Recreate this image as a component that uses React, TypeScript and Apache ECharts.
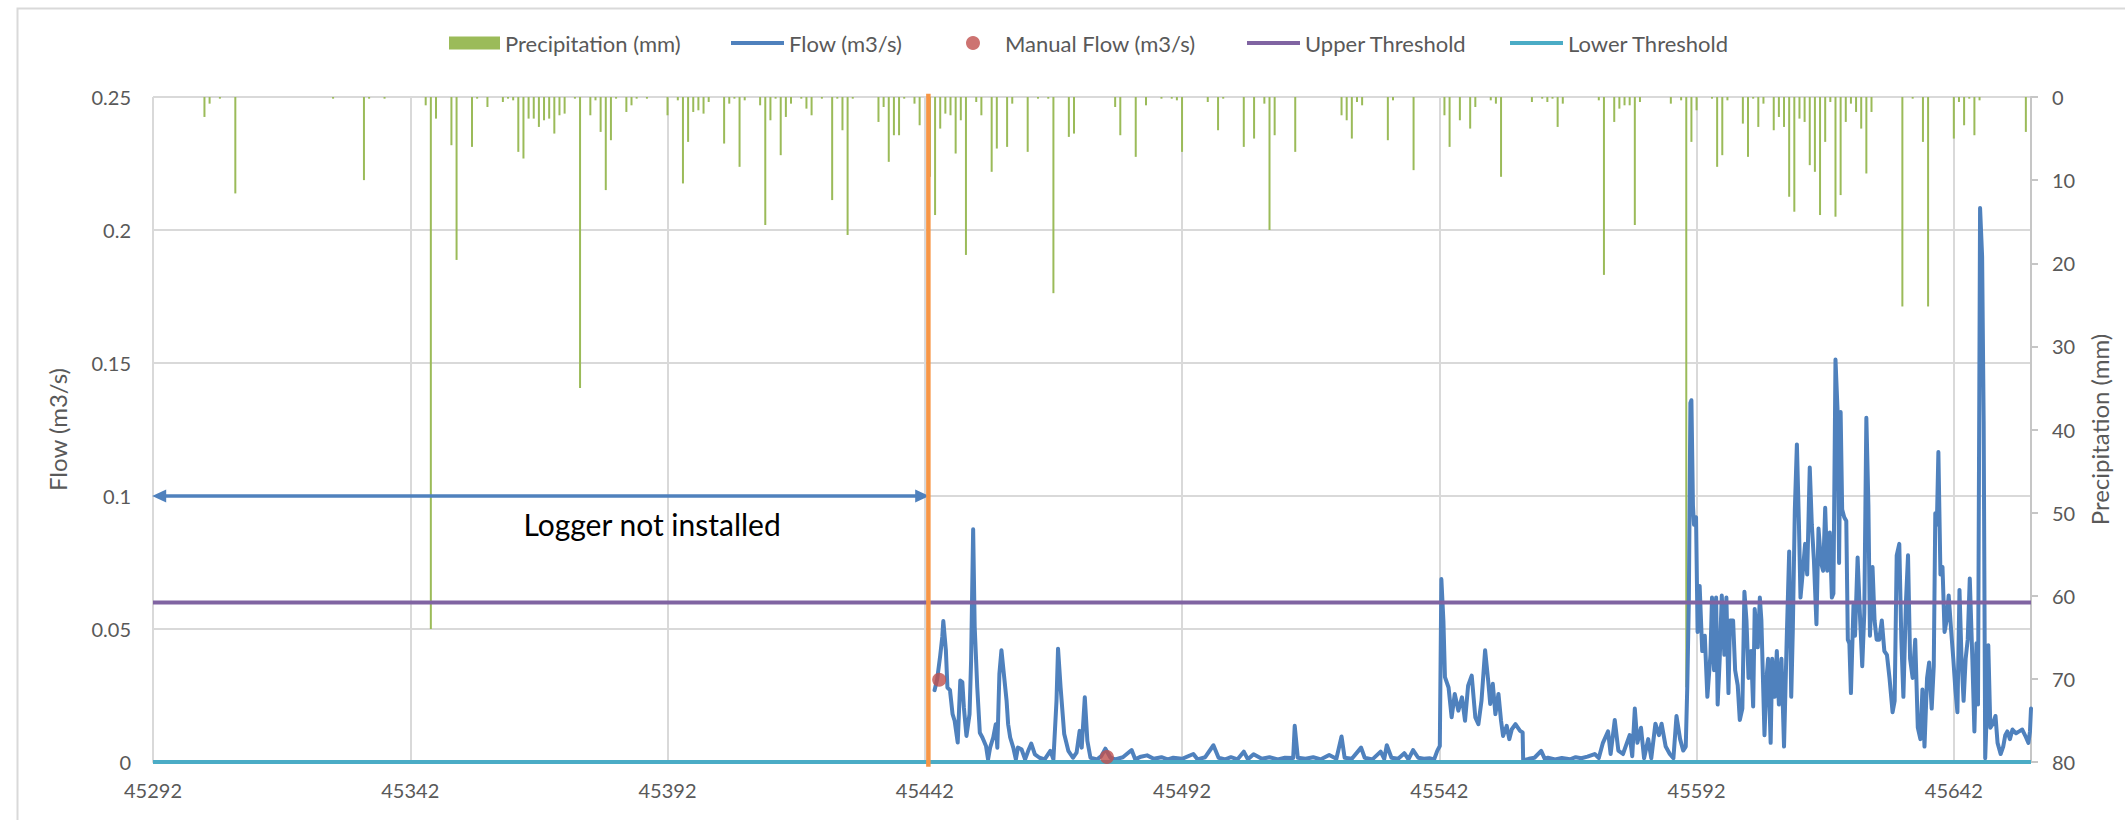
import React, { useEffect, useRef } from "react";
import * as echarts from "echarts";

// ---------- data ----------
// x values are day offsets from the first serial date shown on the axis
const START_DAY = 45292;
const X_MAX = 365;
const X_INTERVAL = 50;

// daily precipitation (mm)
const precipDay = [
  10, 11, 13, 16, 35, 41, 42, 45, 53, 54, 55, 58, 59, 62, 63, 65, 68, 69, 70, 71, 72, 73, 74, 75, 76, 77, 78, 79, 80, 82,
  83, 85, 86, 87, 88, 89, 90, 92, 93, 94, 96, 100, 102, 103, 104, 105, 106, 107, 108, 111, 112, 113, 114, 115, 118, 119, 120, 121,
  122, 123, 124, 126, 127, 128, 130, 132, 133, 134, 135, 136, 141, 142, 143, 144, 145, 146, 148, 149, 151, 152, 153, 154, 155, 156,
  157, 158, 160, 161, 163, 164, 166, 167, 170, 172, 174, 175, 178, 179, 187, 188, 191, 193, 196, 198, 199, 200, 205, 207, 208, 212,
  214, 216, 217, 218, 222, 231, 232, 233, 234, 235, 240, 241,
  245, 251, 252, 254, 256, 257, 260, 261, 262, 268, 270, 271, 272, 273, 274, 281, 282, 284, 285, 286, 287, 288, 289, 295, 297, 298,
  299, 300, 303, 304, 305, 306, 309, 310, 311, 312, 313, 315, 316, 317, 318, 319, 320, 321, 322, 323, 324, 325, 326, 327, 328, 329,
  330, 331, 332, 333, 334, 340, 342, 344, 345, 350, 351, 352, 353, 354, 355, 364,
];
const precipMm = [
  2.4, 0.8, 0.2, 11.6, 0.2, 10.0, 0.2, 0.2, 1.0, 64, 2.6, 5.8, 19.6, 6.0, 0.2, 1.2, 0.6, 0.2, 0.4, 6.6, 7.4, 2.6, 2.6, 3.6, 2.8, 2.6, 4.4, 2.2, 2.0, 0.2,
  35, 2.2, 0.4, 4.2, 11.2, 5.2, 0.2, 1.8, 1.0, 0.2, 0.2, 2.2, 0.4, 10.4, 5.4, 1.8, 1.6, 2.0, 0.6, 5.6, 0.8, 0.2, 8.4, 0.4, 1.0, 15.4, 2.8, 0.2,
  7.0, 2.4, 0.8, 0.2, 1.4, 2.2, 0.2, 12.4, 0.2, 4.0, 16.6, 0.2, 3.0, 1.2, 7.8, 4.6, 4.6, 0.2, 0.8, 3.4, 9.6, 14.2, 3.8, 2.0, 2.2, 6.8,
  2.8, 19.0, 0.6, 2.2, 9.0, 6.2, 6.0, 0.8, 6.6, 0.2, 0.2, 23.6, 4.8, 4.4, 1.2, 4.6, 7.2, 1.0, 0.2, 0.2, 0.4, 6.6, 0.6, 4.0, 0.2, 6.0,
  5.0, 0.8, 16.0, 4.6, 6.6, 2.2, 2.8, 5.0, 0.6, 1.0, 5.2, 0.4,
  8.8, 2.2, 6.0, 2.8, 3.8, 1.2, 0.4, 0.8, 9.6, 0.6, 0.2, 0.6, 0.2, 3.6, 0.8, 0.4, 21.4, 3.0, 1.4, 1.0, 1.0, 15.4, 0.6, 0.8, 0.4, 71,
  5.4, 1.6, 0.2, 8.4, 7.0, 0.4, 3.2, 7.2, 0.2, 3.6, 0.8, 4.0, 2.4, 3.6, 12.0, 13.8, 2.6, 3.0, 8.2, 9.0, 14.2, 5.4, 0.6, 14.4, 11.8, 3.0,
  0.8, 1.8, 3.8, 9.2, 1.8, 25.2, 0.2, 5.4, 25.2, 5.0, 0.6, 3.4, 0.2, 4.6, 0.4, 4.2,
];

// logged flow (m3/s): [day offset, flow]
const flowReadings: [number, number][] = [
  [151.9, 0.027], [152.4, 0.031], [153.0, 0.04], [153.4, 0.047], [153.6, 0.053], [154.1, 0.042], [154.4, 0.028], [154.9, 0.027],
  [155.4, 0.018], [155.8, 0.0155], [156.4, 0.0073], [156.9, 0.0306], [157.3, 0.03], [157.6, 0.0205], [158.1, 0.0098], [158.7, 0.018],
  [159.0, 0.038], [159.4, 0.0875], [159.7, 0.0508], [160.2, 0.028], [160.7, 0.011], [161.2, 0.0092], [161.9, 0.006], [162.3, 0.001],
  [162.7, 0.0054], [163.3, 0.0092], [163.8, 0.0142], [164.1, 0.0054], [164.5, 0.0331], [164.9, 0.042], [165.3, 0.0344], [165.9, 0.023],
  [166.2, 0.0142], [166.6, 0.0092], [167.2, 0.0054], [167.7, 0.001], [168.1, 0.0054], [168.8, 0.0048], [169.5, 0.001], [170.1, 0.0042],
  [170.7, 0.0069], [171.4, 0.0029], [172.3, 0.0016], [173.3, 0.001], [174.4, 0.0042], [175.0, 0.001], [175.6, 0.023], [175.9, 0.0426],
  [176.4, 0.028], [177.1, 0.0105], [177.9, 0.0042], [178.8, 0.0016], [179.5, 0.0035], [180.1, 0.0117], [180.5, 0.0054], [181.1, 0.0243],
  [181.6, 0.0079], [182.2, 0.0016], [183.5, 0.001], [184.3, 0.0022], [185.1, 0.005], [186.1, 0.0016], [187.0, 0.001], [188.5, 0.0018],
  [190.2, 0.0045], [190.9, 0.001], [192.0, 0.002], [193.2, 0.0025], [194.5, 0.0012], [196.0, 0.0018], [197.2, 0.001], [198.3, 0.0016],
  [200.0, 0.0012], [202.2, 0.003], [203.0, 0.001], [204.5, 0.0018], [206.1, 0.0063], [207.1, 0.0016], [208.4, 0.001], [209.5, 0.0018],
  [210.8, 0.001], [212.0, 0.0039], [212.8, 0.001], [213.9, 0.0029], [215.5, 0.0012], [217.0, 0.0018], [218.6, 0.001], [220.0, 0.0016],
  [221.6, 0.0015], [221.9, 0.0136], [222.5, 0.0016], [224.0, 0.0012], [225.5, 0.0018], [227.0, 0.001], [228.6, 0.0026], [230.0, 0.0012],
  [231.0, 0.0096], [231.6, 0.0016], [233.0, 0.0012], [234.8, 0.0054], [235.5, 0.0016], [237.0, 0.001], [238.6, 0.0039], [239.3, 0.0012],
  [239.8, 0.0063], [240.7, 0.0016], [242.0, 0.0012], [243.2, 0.0033], [244.0, 0.001], [244.9, 0.0045], [245.9, 0.0016], [247.0, 0.0012],
  [248.1, 0.0014], [249.0, 0.001], [249.6, 0.0042], [250.1, 0.006], [250.4, 0.0688], [250.8, 0.053], [251.1, 0.0319], [251.8, 0.028],
  [252.4, 0.0168], [253.0, 0.0256], [253.7, 0.0193], [254.4, 0.0243], [255.0, 0.0155], [255.6, 0.0287], [256.3, 0.0325], [257.0, 0.0168],
  [257.6, 0.0142], [258.2, 0.023], [258.9, 0.042], [259.5, 0.0306], [259.9, 0.0218], [260.4, 0.0294], [260.9, 0.018], [261.5, 0.0256],
  [262.0, 0.0155], [262.4, 0.0098], [263.1, 0.0136], [263.6, 0.0086], [264.1, 0.0123], [264.8, 0.0142], [265.7, 0.0117], [266.2, 0.0111],
  [266.3, 0.0006], [267.4, 0.0012], [268.5, 0.0016], [269.8, 0.0042], [270.5, 0.0012], [271.1, 0.0016], [272.5, 0.001], [273.8, 0.0015],
  [275.4, 0.001], [276.5, 0.0018], [277.6, 0.0014], [278.8, 0.002], [280.2, 0.003], [281.0, 0.0015], [281.8, 0.0072], [282.8, 0.0115],
  [283.3, 0.003], [284.1, 0.0158], [284.8, 0.0043], [285.7, 0.003], [287.0, 0.0101], [287.5, 0.0022], [288.0, 0.0201], [288.5, 0.0072],
  [289.2, 0.0129], [289.8, 0.0014], [290.6, 0.0086], [291.2, 0.0014], [292.0, 0.0144], [292.7, 0.0101], [293.2, 0.0144], [294.0, 0.0058],
  [294.8, 0.003], [295.5, 0.0014], [296.1, 0.0173], [296.8, 0.0086], [297.4, 0.0043], [297.9, 0.0058], [298.2, 0.0288], [298.5, 0.0604],
  [298.8, 0.135], [299.0, 0.136], [299.3, 0.0964], [299.5, 0.0892], [299.9, 0.092], [300.2, 0.0489], [300.6, 0.0662], [301.1, 0.0417],
  [301.6, 0.0475], [302.1, 0.0245], [302.7, 0.0403], [303.0, 0.0618], [303.4, 0.0345], [303.8, 0.0618], [304.1, 0.0216], [304.5, 0.0388],
  [304.9, 0.0626], [305.4, 0.0403], [305.8, 0.0618], [306.2, 0.0259], [306.5, 0.0532], [307.1, 0.0532], [307.5, 0.0345], [308.0, 0.0288],
  [308.4, 0.0158], [308.9, 0.0201], [309.3, 0.064], [309.7, 0.0532], [310.1, 0.0316], [310.6, 0.0417], [311.0, 0.0209], [311.3, 0.0575],
  [311.9, 0.0431], [312.3, 0.0618], [312.6, 0.0532], [313.2, 0.0101], [313.6, 0.0316], [313.9, 0.0388], [314.4, 0.0072], [314.7, 0.0388],
  [315.2, 0.0245], [315.6, 0.0417], [316.0, 0.0216], [316.5, 0.0388], [317.0, 0.0058], [317.5, 0.0446], [318.0, 0.0791], [318.4, 0.0245],
  [318.7, 0.0489], [319.1, 0.0949], [319.5, 0.1194], [319.9, 0.0892], [320.2, 0.0618], [320.6, 0.0705], [321.1, 0.082], [321.5, 0.0705],
  [322.0, 0.1107], [322.4, 0.0892], [322.8, 0.0762], [323.3, 0.0518], [323.7, 0.0878], [324.2, 0.0748], [324.6, 0.0719], [325.0, 0.0956],
  [325.4, 0.0719], [325.9, 0.0863], [326.3, 0.0618], [326.6, 0.0633], [327.0, 0.1513], [327.4, 0.1323], [327.7, 0.0748], [328.0, 0.1316],
  [328.3, 0.0949], [328.7, 0.092], [329.1, 0.0906], [329.4, 0.046], [329.7, 0.0446], [330.0, 0.0259], [330.5, 0.059], [330.8, 0.0475],
  [331.3, 0.0769], [331.8, 0.0532], [332.2, 0.036], [332.6, 0.0561], [333.0, 0.1294], [333.4, 0.0964], [333.7, 0.0475], [334.2, 0.0733],
  [334.6, 0.0532], [335.0, 0.046], [335.5, 0.046], [336.0, 0.0532], [336.5, 0.0417], [337.0, 0.0403], [337.5, 0.0316], [338.1, 0.0187],
  [338.5, 0.023], [338.9, 0.0777], [339.4, 0.082], [339.8, 0.046], [340.2, 0.0245], [340.7, 0.0604], [341.1, 0.0777], [341.5, 0.0388],
  [342.0, 0.0316], [342.5, 0.046], [343.0, 0.0129], [343.5, 0.0086], [343.9, 0.0273], [344.3, 0.0058], [344.8, 0.0316], [345.2, 0.0374],
  [345.7, 0.0201], [346.1, 0.036], [346.4, 0.0935], [346.7, 0.0892], [347.0, 0.1165], [347.4, 0.0705], [347.8, 0.0733], [348.2, 0.0489],
  [348.6, 0.0532], [349.0, 0.0626], [349.5, 0.0489], [349.9, 0.0388], [350.3, 0.0273], [350.7, 0.0187], [351.1, 0.0647], [351.5, 0.0388],
  [351.9, 0.023], [352.3, 0.0388], [352.7, 0.046], [353.1, 0.069], [353.6, 0.0388], [354.0, 0.0115], [354.4, 0.0446], [354.7, 0.0216],
  [355.1, 0.2083], [355.5, 0.19], [355.8, 0.128], [356.1, 0.0014], [356.3, 0.0129], [356.7, 0.0439], [357.1, 0.0129], [357.6, 0.0144],
  [358.1, 0.0173], [358.5, 0.0072], [359.1, 0.003], [359.6, 0.0058], [360.0, 0.0101], [360.4, 0.0115], [360.9, 0.0086], [361.4, 0.0122],
  [362.1, 0.0108], [362.7, 0.0115], [363.3, 0.0122], [364.0, 0.0094], [364.5, 0.0072], [364.8, 0.0115], [365.0, 0.0201],
];

// manual flow gaugings
const manualDay = [152.8, 185.4];
const manualFlow = [0.0309, 0.0019];

const UPPER_THRESHOLD = 0.06;
const LOWER_THRESHOLD = 0;
const LOGGER_INSTALLED_DAY = 150.7;
const ANNOTATION_FLOW = 0.1;

// ---------- style ----------
const FONT = "Lato, 'Open Sans', sans-serif";
const TXT = "#595959";
const GRID = "#d9d9d9";

export default function App() {
  const ref = useRef<HTMLDivElement>(null);

  useEffect(() => {
    if (!ref.current) return;
    const chart = echarts.init(ref.current, undefined, { renderer: "svg" });

    const legendBase = {
      top: 27,
      textStyle: { color: TXT, fontSize: 22, fontFamily: FONT },
      selectedMode: false as const,
    };

    const option: any = {
      animation: false,
      backgroundColor: "#ffffff",
      textStyle: { fontFamily: FONT },
      graphic: [
        {
          type: "rect",
          left: 15,
          top: 6,
          silent: true,
          z: -10,
          shape: { width: 2300, height: 900 },
          style: { fill: "none", stroke: "#d9d9d9", lineWidth: 2 },
        },
      ],
      grid: { left: 153, right: 94, top: 97, bottom: 58 },
      legend: [
        { ...legendBase, left: 444, itemWidth: 51, itemHeight: 13, data: [{ name: "Precipitation (mm)", icon: "rect" }] },
        { ...legendBase, left: 726, itemWidth: 53, itemHeight: 4, data: [{ name: "Flow (m3/s)", icon: "rect" }] },
        { ...legendBase, left: 961, itemWidth: 54, itemHeight: 14, data: [{ name: "Manual Flow (m3/s)", icon: "circle" }] },
        { ...legendBase, left: 1242, itemWidth: 53, itemHeight: 4, data: [{ name: "Upper Threshold", icon: "rect" }] },
        { ...legendBase, left: 1505, itemWidth: 53, itemHeight: 4, data: [{ name: "Lower Threshold", icon: "rect" }] },
      ],
      xAxis: {
        type: "value",
        min: 0,
        max: X_MAX,
        interval: X_INTERVAL,
        axisLine: { show: true, lineStyle: { color: GRID, width: 2 } },
        axisTick: { show: false },
        splitLine: { show: true, lineStyle: { color: GRID, width: 2 } },
        axisLabel: {
          color: TXT,
          fontSize: 20,
          fontFamily: FONT,
          margin: 18,
          showMaxLabel: false,
          formatter: (v: number) => String(v + START_DAY),
        },
      },
      yAxis: [
        {
          type: "value",
          min: 0,
          max: 0.25,
          interval: 0.05,
          name: "Flow (m3/s)",
          nameLocation: "middle",
          nameRotate: 90,
          nameGap: 84,
          nameTextStyle: { color: TXT, fontSize: 24, fontFamily: FONT },
          axisLine: { show: false },
          axisTick: { show: false },
          splitLine: { show: true, lineStyle: { color: GRID, width: 2 } },
          axisLabel: {
            color: TXT,
            fontSize: 20,
            fontFamily: FONT,
            margin: 22,
            formatter: (v: number) => String(Math.round(v * 100) / 100),
          },
        },
        {
          type: "value",
          min: 0,
          max: 80,
          interval: 10,
          inverse: true,
          position: "right",
          name: "Precipitation (mm)",
          nameLocation: "middle",
          nameRotate: 90,
          nameGap: 56,
          nameTextStyle: { color: TXT, fontSize: 24, fontFamily: FONT },
          axisLine: { show: true, lineStyle: { color: "#c6c6c6", width: 2 } },
          axisTick: { show: true, inside: false, length: 7, lineStyle: { color: "#c6c6c6", width: 2 } },
          splitLine: { show: false },
          axisLabel: { color: TXT, fontSize: 20, fontFamily: FONT, margin: 21 },
        },
      ],
      series: [
        {
          name: "Precipitation (mm)",
          type: "bar",
          xAxisIndex: 0,
          yAxisIndex: 1,
          barWidth: 2,
          itemStyle: { color: "#9bbb59" },
          z: 1,
          data: precipDay.map((d, i) => [d, precipMm[i]]),
        },
        {
          name: "Flow (m3/s)",
          type: "line",
          yAxisIndex: 0,
          symbol: "none",
          showSymbol: false,
          lineStyle: { color: "#4f81bd", width: 4, join: "round", cap: "round" },
          itemStyle: { color: "#4f81bd" },
          z: 3,
          data: flowReadings,
        },
        {
          name: "Upper Threshold",
          type: "line",
          yAxisIndex: 0,
          symbol: "none",
          lineStyle: { color: "#8064a2", width: 4 },
          itemStyle: { color: "#8064a2" },
          z: 4,
          data: [
            [0, UPPER_THRESHOLD],
            [X_MAX, UPPER_THRESHOLD],
          ],
        },
        {
          name: "Lower Threshold",
          type: "line",
          yAxisIndex: 0,
          symbol: "none",
          lineStyle: { color: "#4bacc6", width: 4 },
          itemStyle: { color: "#4bacc6" },
          z: 4,
          data: [
            [0, LOWER_THRESHOLD],
            [X_MAX, LOWER_THRESHOLD],
          ],
        },
        {
          name: "Manual Flow (m3/s)",
          type: "scatter",
          yAxisIndex: 0,
          symbol: "circle",
          symbolSize: 14,
          itemStyle: { color: "#c0504d" },
          z: 6,
          data: manualDay.map((d, i) => [d, manualFlow[i]]),
        },
        {
          name: "Logger installed",
          type: "line",
          yAxisIndex: 0,
          symbol: "none",
          clip: false,
          silent: true,
          lineStyle: { color: "#f79646", width: 4.5 },
          z: 5,
          data: [
            [LOGGER_INSTALLED_DAY, -0.0018],
            [LOGGER_INSTALLED_DAY, 0.2512],
          ],
        },
        {
          name: "annotation",
          type: "line",
          yAxisIndex: 0,
          symbol: "none",
          silent: true,
          lineStyle: { opacity: 0, width: 0 },
          z: 5,
          data: [
            [1.2, ANNOTATION_FLOW],
            [LOGGER_INSTALLED_DAY - 1.2, ANNOTATION_FLOW],
          ],
          markLine: {
            silent: true,
            symbol: ["triangle", "triangle"],
            symbolSize: [13, 14],
            label: { show: false },
            lineStyle: { color: "#4f81bd", width: 3.5, type: "solid" },
            data: [[{ coord: [1.2, ANNOTATION_FLOW] }, { coord: [LOGGER_INSTALLED_DAY - 1.2, ANNOTATION_FLOW] }]],
          },
          markPoint: {
            silent: true,
            symbol: "rect",
            symbolSize: 1,
            itemStyle: { color: "rgba(0,0,0,0)" },
            label: {
              show: true,
              position: "inside",
              color: "#000000",
              fontSize: 30,
              fontFamily: FONT,
              formatter: "Logger not installed",
            },
            data: [{ coord: [97, 0.0893] }],
          },
        },
      ],
    };

    chart.setOption(option);
    return () => chart.dispose();
  }, []);

  return (
    <div
      ref={ref}
      style={{ position: "absolute", left: 0, top: 0, width: 2125, height: 820, background: "#fff" }}
    />
  );
}
